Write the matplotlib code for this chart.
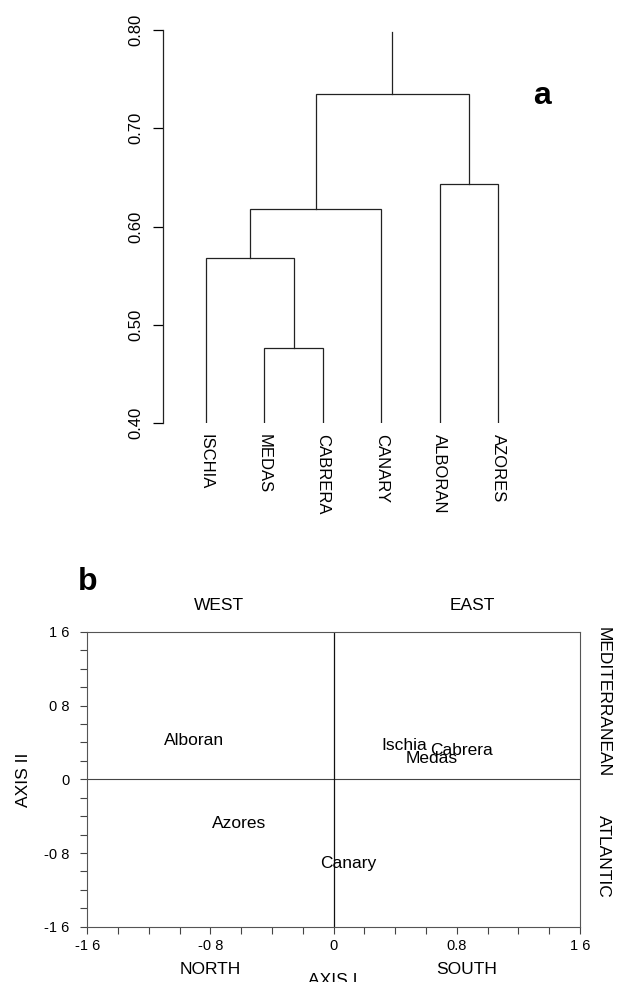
import matplotlib
matplotlib.use("Agg")
import matplotlib.pyplot as plt
from matplotlib.ticker import MultipleLocator, FixedLocator, FixedFormatter

plt.rcParams['font.family'] = ['Liberation Sans', 'DejaVu Sans']

# --- panel a: dendrogram data ---
leaves = ['ISCHIA', 'MEDAS', 'CABRERA', 'CANARY', 'ALBORAN', 'AZORES']
# clusters 0-5 are leaves, each merge creates the next cluster id
merge_pairs = [(1, 2), (0, 6), (7, 3), (4, 5), (8, 9)]
merge_heights = [0.477, 0.568, 0.618, 0.643, 0.735]
root_top = 0.798
dendro_yticks = [0.40, 0.50, 0.60, 0.70, 0.80]
dendro_ylabels = ['0.40', '0.50', '0.60', '0.70', '0.80']

# --- panel b: ordination data ---
sites = ['Alboran', 'Ischia', 'Cabrera', 'Medas', 'Azores', 'Canary']
axis1 = [-0.906, 0.456, 0.832, 0.640, -0.617, 0.092]
axis2 = [0.420, 0.362, 0.312, 0.221, -0.478, -0.912]
ord_ticks = [-1.6, -0.8, 0, 0.8, 1.6]
ord_xlabels = ['-1 6', '-0 8', '0', '0.8', '1 6']
ord_ylabels = ['-1 6', '-0 8', '0', '0 8', '1 6']

line_col = '#222222'

fig = plt.figure(figsize=(6.17, 9.82), dpi=100)

# ---------------- panel a ----------------
ax = fig.add_axes([0.2642, 0.5689, 0.6434, 0.4005])
xpos = {i: float(i) for i in range(len(leaves))}
ypos = {i: 0.40 for i in range(len(leaves))}
for k, ((a, b), h) in enumerate(zip(merge_pairs, merge_heights)):
    ax.plot([xpos[a], xpos[a], xpos[b], xpos[b]], [ypos[a], h, h, ypos[b]],
            color=line_col, lw=0.9, solid_joinstyle='miter')
    new = len(leaves) + k
    xpos[new] = (xpos[a] + xpos[b]) / 2
    ypos[new] = h
root = len(leaves) + len(merge_pairs) - 1
ax.plot([xpos[root], xpos[root]], [ypos[root], root_top], color=line_col, lw=0.9)

ax.set_xlim(-0.736, 6.06)
ax.set_ylim(0.40, 0.80)
for s in ['top', 'right', 'bottom']:
    ax.spines[s].set_visible(False)
ax.spines['left'].set_linewidth(0.9)
ax.spines['left'].set_color(line_col)
ax.set_yticks(dendro_yticks)
ax.set_yticklabels(dendro_ylabels, rotation=90, va='center', fontsize=12)
ax.tick_params(axis='y', direction='out', length=7.5, width=0.9, pad=6.5)
ax.set_xticks(range(len(leaves)))
ax.set_xticklabels(leaves, rotation=270, fontsize=12)
ax.tick_params(axis='x', length=0, pad=8)
fig.text(542 / 617, 1 - 96 / 982, 'a', fontsize=23, fontweight='bold',
         ha='center', va='center')

# ---------------- panel b ----------------
bx = fig.add_axes([0.1415, 0.0563, 0.7985, 0.3002])
bx.set_xlim(-1.6, 1.6)
bx.set_ylim(-1.6, 1.6)
for s in bx.spines.values():
    s.set_linewidth(0.8)
    s.set_color('#555555')
bx.axhline(0, color='#444444', lw=0.8)
bx.axvline(0, color='#111111', lw=0.9)

for name, x, y in zip(sites, axis1, axis2):
    bx.text(x, y, name, fontsize=12.5, ha='center', va='center')

bx.xaxis.set_major_locator(FixedLocator(ord_ticks))
bx.xaxis.set_major_formatter(FixedFormatter(ord_xlabels))
bx.yaxis.set_major_locator(FixedLocator(ord_ticks))
bx.yaxis.set_major_formatter(FixedFormatter(ord_ylabels))
bx.xaxis.set_minor_locator(MultipleLocator(0.2))
bx.yaxis.set_minor_locator(MultipleLocator(0.2))
bx.tick_params(which='both', direction='out', width=0.8, color='#444444',
               labelsize=10.5)
bx.tick_params(axis='x', which='both', length=5, pad=4)
bx.tick_params(axis='y', which='both', length=5, pad=8)

fig.text(87.5 / 617, 1 - 581.5 / 982, 'b', fontsize=23, fontweight='bold',
         ha='center', va='center')
fig.text(218.8 / 617, 1 - 605 / 982, 'WEST', fontsize=12.5, ha='center', va='center')
fig.text(472.3 / 617, 1 - 605 / 982, 'EAST', fontsize=12.5, ha='center', va='center')
fig.text(210.5 / 617, 1 - 970 / 982, 'NORTH', fontsize=12.5, ha='center', va='center')
fig.text(466.4 / 617, 1 - 969 / 982, 'SOUTH', fontsize=12.5, ha='center', va='center')
fig.text(332.6 / 617, 1 - 973 / 982, 'AXIS I', fontsize=12.5, ha='center', va='top')
fig.text(24 / 617, 1 - 780 / 982, 'AXIS II', fontsize=12.5, rotation=90,
         ha='center', va='center')
fig.text(603 / 617, 1 - 702 / 982, 'MEDITERRANEAN', fontsize=12.5, rotation=270,
         ha='center', va='center')
fig.text(603 / 617, 1 - 856 / 982, 'ATLANTIC', fontsize=12.5, rotation=270,
         ha='center', va='center')

fig.savefig('out.png', dpi=100)
